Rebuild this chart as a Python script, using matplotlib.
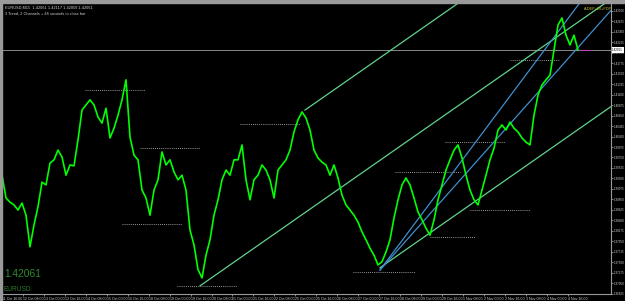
import matplotlib
matplotlib.use('Agg')
import matplotlib.pyplot as plt
from matplotlib.patches import Rectangle

# EURUSD M15 closes, one value every ~4 px (about 12 bars)
closes = [
	1.3937, 1.3888, 1.3879, 1.3873, 1.3862, 1.3877, 1.3851, 1.3783, 1.3830, 1.3869,
	1.3922, 1.3916, 1.3963, 1.3970, 1.3991, 1.3976, 1.3937, 1.3959, 1.3957, 1.4013,
	1.4077, 1.4088, 1.4099, 1.4088, 1.4062, 1.4049, 1.4081, 1.4017, 1.4038, 1.4066,
	1.4099, 1.4142, 1.4019, 1.3980, 1.3970, 1.3905, 1.3888, 1.3851, 1.3905, 1.3927,
	1.3987, 1.3959, 1.3970, 1.3944, 1.3927, 1.3937, 1.3905, 1.3819, 1.3787, 1.3734,
	1.3716, 1.3765, 1.3798, 1.3851, 1.3884, 1.3927, 1.3948, 1.3937, 1.3970, 1.3970,
	1.4002, 1.3927, 1.3884, 1.3927, 1.3937, 1.3959, 1.3948, 1.3927, 1.3888, 1.3948,
	1.3959, 1.3970, 1.3991, 1.4030, 1.4056, 1.4073, 1.4060, 1.4034, 1.3991, 1.3974,
	1.3965, 1.3959, 1.3937, 1.3959, 1.3931, 1.3894, 1.3873, 1.3862, 1.3851, 1.3836,
	1.3815, 1.3798, 1.3780, 1.3765, 1.3744, 1.3751, 1.3772, 1.3798, 1.3845, 1.3884,
	1.3916, 1.3931, 1.3916, 1.3888, 1.3858, 1.3841, 1.3823, 1.3808, 1.3841, 1.3884,
	1.3916, 1.3948, 1.3970, 1.3991, 1.4002, 1.3974, 1.3937, 1.3905, 1.3884, 1.3873,
	1.3905, 1.3937, 1.3970, 1.3995, 1.4034, 1.4045, 1.4034, 1.4051, 1.4038, 1.4030,
	1.4017, 1.4008, 1.4002, 1.4066, 1.4109, 1.4131, 1.4142, 1.4152, 1.4206, 1.4260,
	1.4275, 1.4238, 1.4217, 1.4238, 1.4206,
]
last_price = 1.42061

# time axis labels, one every 64 bars (16 hours)
time_labels = [
	'11 Oct 16:00', '12 Oct 08:00', '13 Oct 00:00', '13 Oct 16:00', '14 Oct 08:00',
	'15 Oct 00:00', '15 Oct 16:00', '18 Oct 08:00', '19 Oct 00:00', '19 Oct 16:00',
	'20 Oct 08:00', '21 Oct 00:00', '21 Oct 16:00', '22 Oct 08:00', '25 Oct 00:00',
	'25 Oct 16:00', '26 Oct 08:00', '27 Oct 00:00', '27 Oct 16:00', '28 Oct 08:00',
	'29 Oct 00:00', '29 Oct 16:00', '1 Nov 08:00', '2 Nov 00:00', '2 Nov 16:00',
	'3 Nov 08:00', '4 Nov 00:00', '4 Nov 16:00',
]

price_ticks = [
	1.42900, 1.42675, 1.42450, 1.42225, 1.42000, 1.41775, 1.41550, 1.41325,
	1.41100, 1.40875, 1.40650, 1.40425, 1.40200, 1.39975, 1.39750, 1.39525,
	1.39300, 1.39075, 1.38850, 1.38625, 1.38400, 1.38175, 1.37950, 1.37725,
	1.37500, 1.37275, 1.37050, 1.36825,
]

# green channel: base line by two (sample, price) points, parallels by one point
green_base = [(49.5, 1.3699), (131.5, 1.4191)]
green_parallels = [(75.75, 1.4077), (94.5, 1.3738)]
# blue trend lines from the 27 Oct low
blue_lines = [[(94.5, 1.3733), (141.25, 1.4185)], [(94.5, 1.3733), (145.0, 1.4314)]]

# dotted swing levels (from sample, to sample, price)
levels = [
	(20.75, 35.75, 1.4120), (34.5, 49.5, 1.3995), (30.0, 45.0, 1.3832),
	(43.75, 58.75, 1.3698), (59.5, 74.5, 1.4047), (87.75, 103.25, 1.3729),
	(98.25, 114.5, 1.3944), (107.0, 118.25, 1.3804), (110.75, 125.75, 1.4008),
	(117.0, 132.0, 1.3862), (127.0, 139.5, 1.4185),
]

xmax = 152.25
ymin, ymax = 1.36815, 1.43072


# ray from a point with a given slope, up to the right edge
def ray(ax, s0, p0, slope, color):
	ax.plot([s0, xmax], [p0, p0 + slope * (xmax - s0)], color=color, lw=0.9)


def slope_of(line):
	(s0, p0), (s1, p1) = line
	return (p1 - p0) / (s1 - s0)


fig = plt.figure(figsize=(6.25, 3.01), dpi=100, facecolor='black')
ax = fig.add_axes([2 / 625, 7 / 301, 609 / 625, 291 / 301])
ax.set_facecolor('black')

# window border of the screenshot
fig.patches.append(Rectangle((0, 298 / 301), 1, 3 / 301, transform=fig.transFigure, color='#9a9a9a'))
fig.patches.append(Rectangle((0, 0), 2 / 625, 1, transform=fig.transFigure, color='#9a9a9a'))

# current price line
ax.axhline(last_price, color='#8a8a8a', lw=0.7)

for a, b, p in levels:
	ax.plot([a, b], [p, p], color='#c8c8c8', lw=0.6, ls=(0, (1, 1.5)))

k = slope_of(green_base)
ray(ax, green_base[0][0], green_base[0][1], k, '#5fd38d')
for s, p in green_parallels:
	ray(ax, s, p, k, '#5fd38d')
for line in blue_lines:
	ray(ax, line[0][0], line[0][1], slope_of(line), '#3d8fd0')

ax.plot(range(len(closes)), closes, color='#00ff00', lw=1.2)
ax.plot([len(closes) - 0.5, len(closes) + 2], [last_price, last_price], color='#c040c0', lw=0.8)

ax.set_xlim(0, xmax)
ax.set_ylim(ymin, ymax)

for s in ['left', 'top']:
	ax.spines[s].set_visible(False)
for s in ['right', 'bottom']:
	ax.spines[s].set_color('#9a9a9a')
	ax.spines[s].set_linewidth(0.8)

ax.yaxis.tick_right()
ax.set_yticks(price_ticks)
ax.set_yticklabels(['%.5f' % p for p in price_ticks])
ax.set_xticks([i * 5.2375 for i in range(len(time_labels))])
ax.set_xticklabels(time_labels, ha='left')
ax.tick_params(colors='#9a9a9a', length=1.5, width=0.6, pad=0.6, labelsize=2.6, labelcolor='#d0d0d0')
ax.tick_params(axis='y', labelsize=2.2)
for t in ax.get_xticklabels() + ax.get_yticklabels():
	t.set_family('Liberation Sans')

# price box on the axis
ax.text(1.002, last_price, '%.5f' % last_price, transform=ax.get_yaxis_transform(), fontsize=2.2,
	va='center', ha='left', color='black', family='Liberation Sans',
	bbox=dict(boxstyle='square,pad=0.2', fc='white', ec='none'))

# header and symbol texts
fig.text(5 / 625, 1 - 9 / 301, 'EURUSD,M15  1.42061 1.42117 1.42059 1.42061', fontsize=2.8,
	color='#d0d0d0', family='Liberation Sans')
fig.text(5 / 625, 1 - 15 / 301, '3 Trend, 2 Channels + 46 seconds to close bar', fontsize=2.8,
	color='#d0d0d0', family='Liberation Sans')
ax.text(0.003, 0.06, '1.42061', transform=ax.transAxes, fontsize=7.4, color='#2e8b2e',
	family='Liberation Sans')
ax.text(0.003, 0.012, 'EURUSD', transform=ax.transAxes, fontsize=4.7, color='#2a7a2a',
	family='Liberation Sans')
ax.text(0.955, 0.985, 'A.DEP+20+FDP', transform=ax.transAxes, fontsize=2.8, color='#c8c820',
	va='top', family='Liberation Sans')

fig.savefig('out.png', dpi=100, facecolor='black')
